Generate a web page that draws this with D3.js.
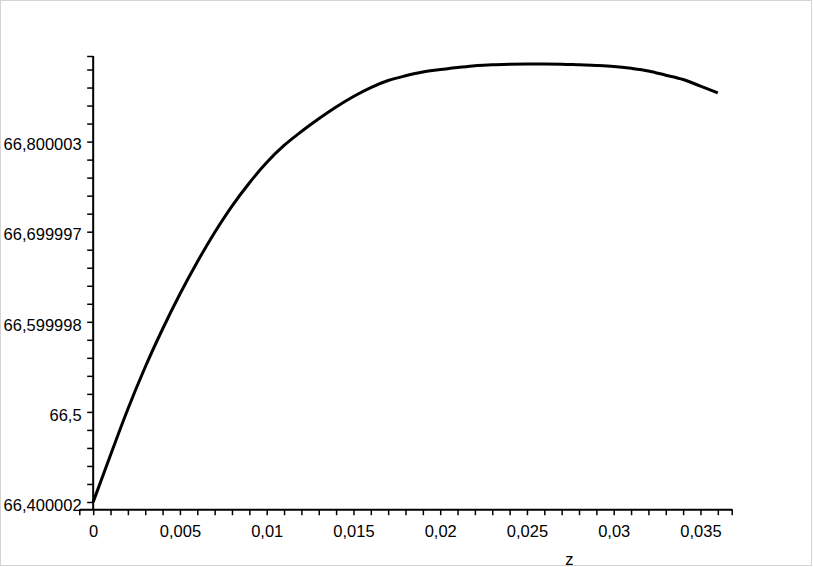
<!DOCTYPE html>
<html>
<head>
<meta charset="utf-8">
<script src="https://cdn.jsdelivr.net/npm/d3@7"></script>
<style>
  html, body { margin: 0; padding: 0; background: #fff; }
  svg { display: block; }
  text { font-family: "Liberation Sans", Arial, sans-serif; font-size: 16.5px; fill: #000; }
</style>
</head>
<body>
<svg id="chart" width="813" height="567"></svg>
<script>
// ---- data ----
const zValues = [0, 0.001, 0.002, 0.003, 0.004, 0.005, 0.006, 0.007, 0.008, 0.009,
  0.010, 0.011, 0.012, 0.013, 0.014, 0.015, 0.016, 0.017, 0.018, 0.019,
  0.020, 0.021, 0.022, 0.023, 0.024, 0.025, 0.026, 0.027, 0.028, 0.029,
  0.030, 0.031, 0.032, 0.033, 0.034, 0.035, 0.036];
const yValues = [66.4000, 66.4522, 66.5032, 66.5498, 66.5920, 66.6309, 66.6664, 66.6991, 66.7285, 66.7541,
  66.7768, 66.7957, 66.8112, 66.8253, 66.8384, 66.8501, 66.8600, 66.8678, 66.8730, 66.8772,
  66.8799, 66.8822, 66.8843, 66.8852, 66.8859, 66.8861, 66.8861, 66.8859, 66.8852, 66.8845,
  66.8834, 66.8813, 66.8784, 66.8737, 66.8689, 66.8616, 66.8541];
const xTickValues = [0, 0.005, 0.01, 0.015, 0.02, 0.025, 0.03, 0.035];
const xTickLabels = ["0", "0,005", "0,01", "0,015", "0,02", "0,025", "0,03", "0,035"];
const yTickValues = [66.4, 66.5, 66.6, 66.7, 66.8];
const yTickLabels = ["66,400002", "66,5", "66,599998", "66,699997", "66,800003"];
const xMinorTicks = d3.range(0, 37).map(i => i / 1000);
const yMinorTicks = d3.range(0, 25).map(i => 66.4 + i * 0.02);
const xDomain = [-0.0008, 0.0368];
const yDomain = [66.392, 66.895];
const xTitle = "z";

// ---- drawing ----
const svg = d3.select("#chart");

// light frame around picture
svg.append("rect").attr("x", 0.5).attr("y", 0.5).attr("width", 811).attr("height", 565)
  .attr("fill", "none").attr("stroke", "#d4d4d4").attr("stroke-width", 1);

const x = d3.scaleLinear().domain(xDomain).range([79.3, 731.7]);
const y = d3.scaleLinear().domain(yDomain).range([509.2, 56]);

const x0 = x(0);
const yAxisY = y(yDomain[0]);

// minor + end ticks x
const gxMinor = svg.append("g").attr("transform", `translate(0,${yAxisY})`)
  .call(d3.axisBottom(x).tickValues(xMinorTicks.concat(xDomain)).tickSize(6).tickFormat(""));
gxMinor.select(".domain").remove();
gxMinor.selectAll("line").attr("stroke", "#000").attr("stroke-width", 1.5);

// major x labels
const gx = svg.append("g").attr("transform", `translate(0,${yAxisY})`)
  .call(d3.axisBottom(x).tickValues(xTickValues).tickSize(0).tickPadding(15.8)
    .tickFormat((d, i) => xTickLabels[i]));
gx.select(".domain").attr("stroke", "#000").attr("stroke-width", 2);
gx.attr("font-family", null).attr("font-size", null);

// y axis minor ticks + end
const gyMinor = svg.append("g").attr("transform", `translate(${x0},0)`)
  .call(d3.axisLeft(y).tickValues(yMinorTicks.concat([yDomain[1]])).tickSize(6).tickFormat(""));
gyMinor.select(".domain").remove();
gyMinor.selectAll("line").attr("stroke", "#000").attr("stroke-width", 1.5);

const gy = svg.append("g").attr("transform", `translate(${x0},0)`)
  .call(d3.axisLeft(y).tickValues(yTickValues).tickSize(0).tickPadding(11.6)
    .tickFormat((d, i) => yTickLabels[i]));
gy.select(".domain").attr("d", `M0,${yAxisY}V${y(yDomain[1])}`).attr("stroke", "#000").attr("stroke-width", 2);
gy.selectAll("text").attr("dy", "0.5em");
gy.attr("font-family", null).attr("font-size", null);

// axis title
svg.append("text").attr("x", 569.3).attr("y", 565).attr("text-anchor", "middle").text(xTitle);

// curve
const line = d3.line().x((d, i) => x(zValues[i])).y(d => y(d)).curve(d3.curveMonotoneX);
svg.append("path").datum(yValues).attr("d", line)
  .attr("fill", "none").attr("stroke", "#000").attr("stroke-width", 3)
  .attr("stroke-linejoin", "round");
</script>
</body>
</html>
